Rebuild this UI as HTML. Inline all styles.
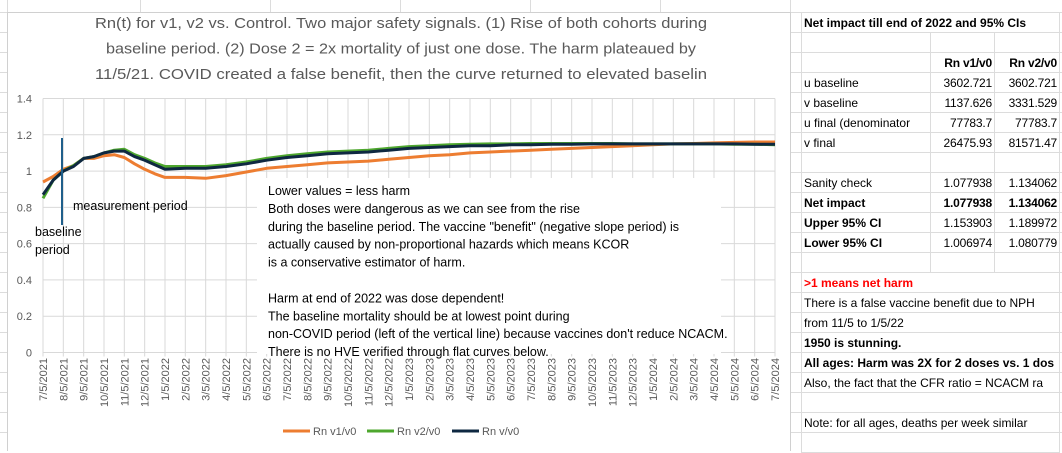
<!DOCTYPE html>
<html><head><meta charset="utf-8"><style>
body{margin:0;width:1062px;height:451px;overflow:hidden;background:#fff;font-family:"Liberation Sans",sans-serif;position:relative}
#sheet{position:absolute;left:0;top:0}
#chart{position:absolute;left:0;top:0}
table{position:absolute;left:801px;top:12px;border-collapse:collapse;table-layout:fixed;width:258px;font-size:12px;color:#000}
tr{height:20px}
td{height:20px;padding:0 2px;border:1px solid #dcdcdc;white-space:nowrap;overflow:hidden;box-sizing:border-box;line-height:18px}
td.n{text-align:right;letter-spacing:-0.2px}
.b{font-weight:bold}
</style></head><body>
<svg id="sheet" width="1062" height="451"></svg>
<svg id="chart" width="1062" height="451"></svg>
<table>
<colgroup><col style="width:129px"><col style="width:64px"><col style="width:65px"></colgroup>
<tr><td colspan="3" class="b" style="overflow:visible">Net impact till end of 2022 and 95% CIs</td></tr>
<tr><td></td><td></td><td></td></tr>
<tr><td></td><td class="n b">Rn v1/v0</td><td class="n b">Rn v2/v0</td></tr>
<tr><td>u baseline</td><td class="n">3602.721</td><td class="n">3602.721</td></tr>
<tr><td>v baseline</td><td class="n">1137.626</td><td class="n">3331.529</td></tr>
<tr><td>u final (denominator</td><td class="n">77783.7</td><td class="n">77783.7</td></tr>
<tr><td>v final</td><td class="n">26475.93</td><td class="n">81571.47</td></tr>
<tr><td></td><td></td><td></td></tr>
<tr><td>Sanity check</td><td class="n">1.077938</td><td class="n">1.134062</td></tr>
<tr class="b"><td>Net impact</td><td class="n">1.077938</td><td class="n">1.134062</td></tr>
<tr><td class="b">Upper 95% CI</td><td class="n">1.153903</td><td class="n">1.189972</td></tr>
<tr><td class="b">Lower 95% CI</td><td class="n">1.006974</td><td class="n">1.080779</td></tr>
<tr><td></td><td></td><td></td></tr>
<tr><td colspan="3" class="b" style="color:#ff0000">&gt;1 means net harm</td></tr>
<tr><td colspan="3">There is a false vaccine benefit due to NPH</td></tr>
<tr><td colspan="3">from 11/5 to 1/5/22</td></tr>
<tr><td colspan="3" class="b">1950 is stunning.</td></tr>
<tr><td colspan="3" class="b">All ages: Harm was 2X for 2 doses vs. 1 dos</td></tr>
<tr><td colspan="3">Also, the fact that the CFR ratio = NCACM ra</td></tr>
<tr><td colspan="3"></td></tr>
<tr><td colspan="3">Note: for all ages, deaths per week similar</td></tr>
<tr><td colspan="3"></td></tr>
</table>
<script>
const tickLabels=["7/5/2021","8/5/2021","9/5/2021","10/5/2021","11/5/2021","12/5/2021","1/5/2022","2/5/2022","3/5/2022","4/5/2022","5/5/2022","6/5/2022","7/5/2022","8/5/2022","9/5/2022","10/5/2022","11/5/2022","12/5/2022","1/5/2023","2/5/2023","3/5/2023","4/5/2023","5/5/2023","6/5/2023","7/5/2023","8/5/2023","9/5/2023","10/5/2023","11/5/2023","12/5/2023","1/5/2024","2/5/2024","3/5/2024","4/5/2024","5/5/2024","6/5/2024","7/5/2024"];
const yTicks=[0,0.2,0.4,0.6,0.8,1,1.2,1.4];
const months=[0,0.5,1,1.5,2,2.5,3,3.5,4,4.5,5,5.5,6,7,8,9,10,11,12,13,14,15,16,17,18,19,20,21,22,23,24,25,26,27,28,29,30,31,32,33,34,35,36];
const v1=[0.94,0.97,1.01,1.03,1.07,1.07,1.085,1.09,1.075,1.04,1.01,0.985,0.965,0.965,0.96,0.975,0.995,1.015,1.025,1.035,1.045,1.05,1.055,1.065,1.075,1.085,1.09,1.10,1.105,1.11,1.115,1.12,1.125,1.13,1.135,1.14,1.145,1.15,1.152,1.155,1.158,1.16,1.16];
const v2=[0.85,0.95,1.0,1.03,1.07,1.08,1.10,1.115,1.12,1.09,1.07,1.045,1.025,1.025,1.025,1.035,1.05,1.07,1.085,1.095,1.105,1.11,1.115,1.125,1.135,1.14,1.145,1.148,1.15,1.15,1.152,1.152,1.152,1.152,1.152,1.15,1.15,1.15,1.15,1.15,1.148,1.148,1.145];
const vv=[0.87,0.95,1.0,1.025,1.07,1.08,1.10,1.11,1.11,1.08,1.06,1.035,1.01,1.015,1.015,1.025,1.04,1.06,1.075,1.085,1.095,1.10,1.105,1.115,1.125,1.13,1.135,1.14,1.14,1.145,1.145,1.148,1.148,1.15,1.15,1.15,1.15,1.15,1.15,1.15,1.15,1.148,1.148];
const NS="http://www.w3.org/2000/svg";
function mk(p,t,a){const e=document.createElementNS(NS,t);for(const k in a)e.setAttribute(k,a[k]);p.appendChild(e);return e;}
const sh=document.getElementById('sheet');
for(let y=12;y<451;y+=20){mk(sh,'line',{x1:0,x2:1062,y1:y+0.5,y2:y+0.5,stroke:'#dcdcdc'});}
[7,140,270,400,530,660,790].forEach(x=>{mk(sh,'line',{x1:x+0.5,x2:x+0.5,y1:0,y2:451,stroke:'#dcdcdc'});});
const c=document.getElementById('chart');
const bg=mk(c,'rect',{x:7.5,y:12.5,width:783,height:440,fill:'#fff',stroke:'#d0d0d0'});


const X0=43,X1=775,Y0=352.5,Y1=98.5;
const xs=m=>X0+(X1-X0)*m/36;
const ys=v=>Y0+(Y1-Y0)*v/1.4;
yTicks.forEach(t=>{
 const g=mk(c,'line',{x1:X0,x2:X1,y1:ys(t),y2:ys(t),stroke:'#d9d9d9'});
 
 
 const tx=mk(c,'text',{x:32,y:ys(t)+4,'text-anchor':'end','font-size':11,fill:'#595959'});
 tx.textContent=String(t);
 
 
});
tickLabels.forEach((lab,i)=>{
 const x=xs(i);
 const g=mk(c,'line',{x1:x,x2:x,y1:Y1,y2:Y0+4,stroke:'#d9d9d9'});
 
 
 const tx=mk(c,'text',{x:0,y:0,transform:`translate(${x+4},358) rotate(-90)`,'text-anchor':'end','font-size':11,fill:'#595959'});
 tx.textContent=lab;
 
 
});
const tb=mk(c,'rect',{x:257,y:178,width:464,height:176,fill:'#fff'});


function series(vals,color,name){
 const d=vals.map((v,i)=>(i?'L':'M')+xs(months[i]).toFixed(1)+','+ys(v).toFixed(1)).join(' ');
 const p=mk(c,'path',{d:d,fill:'none',stroke:color,'stroke-width':3,'stroke-linejoin':'round'});
 
 
}
series(v1,'#ED7D31','series-rn-v1-v0');
series(v2,'#4EA72E','series-rn-v2-v0');
series(vv,'#0E2841','series-rn-v-v0');
const vl=mk(c,'line',{x1:62,x2:62,y1:138,y2:225,stroke:'#1F5F8B','stroke-width':2});


function txt(s,x,y,size,fill,name,extra){const t=mk(c,'text',Object.assign({x:x,y:y,'font-size':size,fill:fill},extra||{}));t.textContent=s;return t;}
txt('measurement period',73,210,12.5,'#000','measurement-period-label');
txt('baseline',35,236,12.5,'#000','baseline-period-label');
txt('period',35,254,12.5,'#000','baseline-period-label-2');
const notes=["Lower values = less harm","Both doses were dangerous as we can see from the rise","during the baseline period. The vaccine \"benefit\" (negative slope period) is","actually caused by non-proportional hazards which means KCOR","is a conservative estimator of harm.","","Harm at end of 2022 was dose dependent!","The baseline mortality should be at lowest point during","non-COVID period  (left of the vertical line) because vaccines don't reduce NCACM.","There is no HVE verified through flat curves below."];
notes.forEach((s,i)=>{if(s)txt(s,268,195+i*17.9,12.5,'#000','annotation-line');});
const titles=["Rn(t) for v1, v2 vs. Control. Two major safety signals. (1) Rise of both cohorts during","baseline period.  (2) Dose 2 = 2x mortality of just one dose. The harm plateaued by","11/5/21. COVID created a false benefit, then the curve returned to elevated baselin"];
const tw=[612,590,612];
titles.forEach((s,i)=>{txt(s,401,28+i*25.5,15,'#595959','chart-title-line',{'text-anchor':'middle',textLength:tw[i],lengthAdjust:'spacingAndGlyphs'});});
const leg=[['#ED7D31','Rn v1/v0',283],['#4EA72E','Rn v2/v0',367],['#0E2841','Rn  v/v0',452]];
leg.forEach(([col,lab,x])=>{
 const l=mk(c,'line',{x1:x,x2:x+27,y1:431,y2:431,stroke:col,'stroke-width':3});
 
 
 txt(lab,x+30,435,11,'#595959','legend-entry');
});
</script>
</body></html>
